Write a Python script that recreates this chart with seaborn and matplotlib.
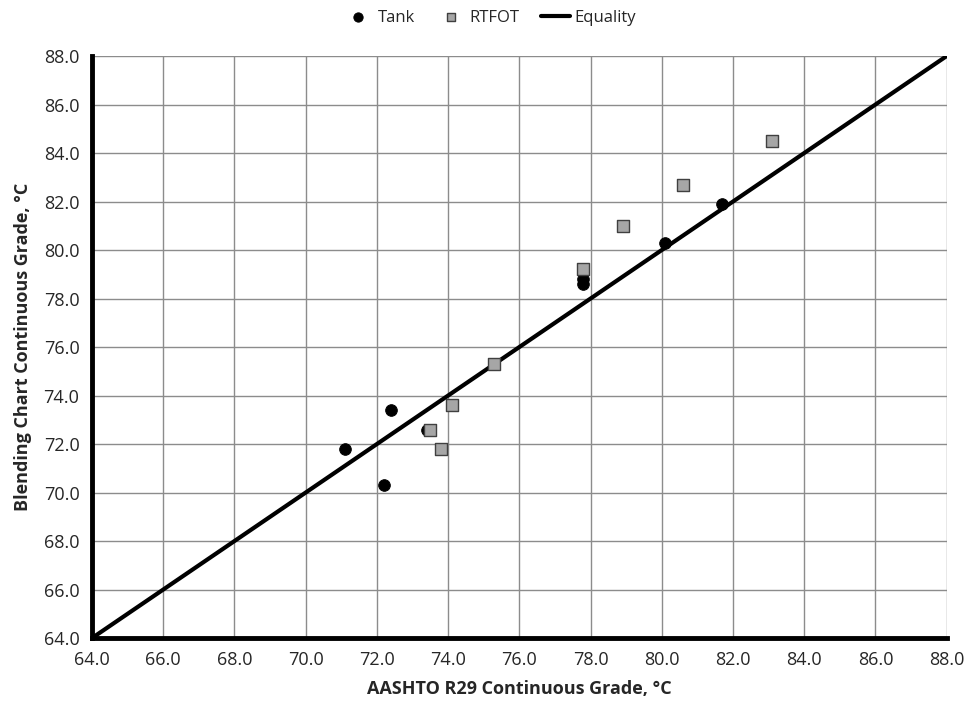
import numpy as np
import pandas as pd
import matplotlib
matplotlib.use('Agg')
import matplotlib.pyplot as plt
import seaborn as sns

# values
tank_x = [71.1, 72.4, 72.2, 73.4, 77.8, 77.8, 80.1, 81.7]
tank_y = [71.8, 73.4, 70.3, 72.6, 78.6, 78.8, 80.3, 81.9]
rtfot_x = [73.5, 74.1, 73.8, 75.3, 77.8, 78.9, 80.6, 83.1]
rtfot_y = [72.6, 73.6, 71.8, 75.3, 79.2, 81.0, 82.7, 84.5]
equality = [64.0, 88.0]
ticks = np.arange(64, 88.1, 2)

sns.set_style('white')
plt.rcParams['font.family'] = ['Open Sans', 'DejaVu Sans']

fig, ax = plt.subplots(figsize=(9.68, 7.09), dpi=100)
fig.subplots_adjust(left=0.095, right=0.978, top=0.921, bottom=0.1)

tank = pd.DataFrame({'x': tank_x, 'y': tank_y})
rtfot = pd.DataFrame({'x': rtfot_x, 'y': rtfot_y})

sns.scatterplot(data=tank, x='x', y='y', ax=ax, marker='o', color='black',
                s=70, edgecolor='black', label='Tank', zorder=4)
sns.scatterplot(data=rtfot, x='x', y='y', ax=ax, marker='s', color='#a6a6a6',
                s=65, edgecolor='#404040', linewidth=1, label='RTFOT', zorder=5)
sns.lineplot(x=equality, y=equality, ax=ax, color='black', linewidth=3,
             label='Equality', zorder=3)

ax.set_xlim(64, 88)
ax.set_ylim(64, 88)
ax.set_xticks(ticks)
ax.set_yticks(ticks)
ax.set_xticklabels(['{:0.1f}'.format(v) for v in ticks], fontsize=13)
ax.set_yticklabels(['{:0.1f}'.format(v) for v in ticks], fontsize=13)
ax.grid(True, color='#8c8c8c', linewidth=1)
ax.set_axisbelow(True)

for side in ['top', 'right']:
    ax.spines[side].set_visible(False)
for side in ['left', 'bottom']:
    ax.spines[side].set_linewidth(3.5)
    ax.spines[side].set_color('black')
ax.tick_params(axis='both', direction='out', length=5, width=2, color='black', pad=4)

ax.set_xlabel('AASHTO R29 Continuous Grade, \u00b0C', fontsize=13, fontweight='bold', labelpad=8)
ax.set_ylabel('Blending Chart Continuous Grade, \u00b0C', fontsize=13, fontweight='bold', labelpad=8)

ax.legend(loc='center', bbox_to_anchor=(0.466, 1.066), ncol=3, frameon=False,
          fontsize=12, handlelength=1.7, columnspacing=1.3, handletextpad=0.3,
          markerscale=0.8, borderaxespad=0)

fig.savefig('out.png', dpi=100)
